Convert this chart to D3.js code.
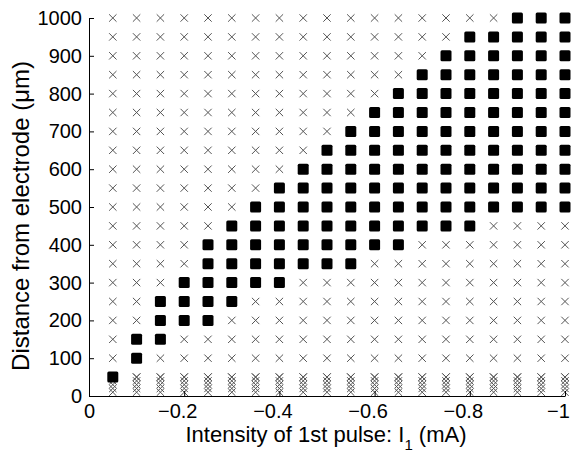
<!DOCTYPE html>
<html>
<head>
<meta charset="utf-8">
<script src="https://cdn.jsdelivr.net/npm/d3@7"></script>
<style>
  html, body { margin: 0; padding: 0; background: #fff; }
  svg { display: block; }
  text { font-family: "Liberation Sans", Arial, sans-serif; fill: #000; }
</style>
</head>
<body>
<svg id="chart" width="571" height="458"></svg>
<script>
// Stimulus intensity of 1st pulse (mA), one column each
const currents = [-0.05, -0.1, -0.15, -0.2, -0.25, -0.3, -0.35, -0.4, -0.45, -0.5,
                  -0.55, -0.6, -0.65, -0.7, -0.75, -0.8, -0.85, -0.9, -0.95, -1];
// Distances from electrode tested (µm)
const distances = [50, 100, 150, 200, 250, 300, 350, 400, 450, 500, 550,
                   600, 650, 700, 750, 800, 850, 900, 950, 1000];
// Extra closely spaced distances near the electrode
const nearDistances = [10, 20, 30, 40, 50];
// For each current: lowest and highest distance marked with a filled square
const activeMin = [50, 100, 150, 200, 200, 250, 300, 300, 350, 350,
                   350, 400, 400, 450, 450, 450, 500, 500, 500, 500];
const activeMax = [50, 150, 250, 300, 400, 450, 500, 550, 600, 650,
                   700, 750, 800, 850, 900, 950, 950, 1000, 1000, 1000];
// Tick values
const xTicks = [0, -0.2, -0.4, -0.6, -0.8, -1];
const yTicks = [0, 100, 200, 300, 400, 500, 600, 700, 800, 900, 1000];

const svg = d3.select("#chart");
const x = d3.scaleLinear().domain([0, -1]).range([89, 565]);
const y = d3.scaleLinear().domain([0, 1000]).range([396, 18]);

// Build point table
const crosses = [];
const squares = [];
currents.forEach((c, i) => {
  nearDistances.forEach(d => crosses.push({c, d}));
  distances.forEach(d => {
    if (d >= activeMin[i] && d <= activeMax[i]) squares.push({c, d});
    else crosses.push({c, d});
  });
});

const cs = 3.7;
svg.append("g").selectAll("path").data(crosses).join("path")
  .attr("d", p => {
    const px = x(p.c), py = y(p.d);
    return `M${px - cs},${py - cs}L${px + cs},${py + cs}M${px - cs},${py + cs}L${px + cs},${py - cs}`;
  })
  .attr("stroke", "#555").attr("stroke-width", 1).attr("fill", "none");

const sq = 11;
svg.append("g").selectAll("rect").data(squares).join("rect")
  .attr("x", p => x(p.c) - sq / 2).attr("y", p => y(p.d) - sq / 2)
  .attr("width", sq).attr("height", sq).attr("rx", 1.5)
  .attr("fill", "#000");

// Axes
const fmtX = v => v === 0 ? "0" : d3.format("")(v);
const xAxis = d3.axisBottom(x).tickValues(xTicks).tickFormat(fmtX)
  .tickSizeInner(-5).tickSizeOuter(0).tickPadding(8);
const gx = svg.append("g").attr("transform", "translate(0,396)").call(xAxis);
gx.selectAll("text").attr("font-size", 20).attr("dx", d => d === 0 ? 0 : -7);

const yAxis = d3.axisLeft(y).tickValues(yTicks).tickFormat(d3.format("d"))
  .tickSizeInner(-5).tickSizeOuter(0).tickPadding(7);
const gy = svg.append("g").attr("transform", "translate(89,0)").call(yAxis);
gy.selectAll("text").attr("font-size", 20);

svg.selectAll(".domain, .tick line").attr("stroke", "#000").attr("stroke-width", 1);
svg.selectAll(".tick text").attr("font-family", "'Liberation Sans', Arial, sans-serif").attr("fill", "#000");

// Axis labels
const xl = svg.append("text").attr("x", 326).attr("y", 442)
  .attr("text-anchor", "middle").attr("font-size", 22);
xl.append("tspan").text("Intensity of 1st pulse: I");
xl.append("tspan").attr("font-size", 15).attr("dy", 8).text("1");
xl.append("tspan").attr("dy", -8).text(" (mA)");

svg.append("text")
  .attr("transform", "translate(29,216) rotate(-90)")
  .attr("text-anchor", "middle").attr("font-size", 24)
  .text("Distance from electrode (\u03bcm)");
</script>
</body>
</html>
